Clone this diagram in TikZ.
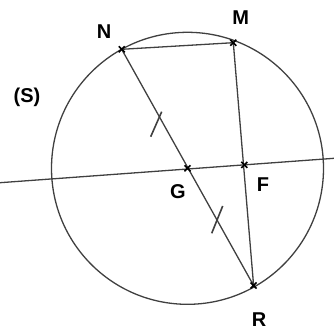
\documentclass[tikz,border=0pt]{standalone}
\usepackage{fontspec}
\setmainfont{Liberation Sans}
\tikzset{lbl/.style={font=\bfseries\fontsize{20}{20}\selectfont,inner sep=0pt}}
\begin{document}
\begin{tikzpicture}[x=1pt,y=-1pt,line width=1.3pt,draw=black!75]
    \useasboundingbox (0,0) rectangle (334,330);
    \coordinate (G) at (187.5,168.3); \coordinate (N) at (121.7,49.3);
    \coordinate (M) at (233.3,42.7); \coordinate (R) at (253.6,285.5);
    \coordinate (F) at (244.3,164.9);
    \coordinate (A) at (0,182.7); \coordinate (B) at (334,158.3);
    \draw (G) circle (136);
    \draw (A) -- (B);
    \draw (N) -- (M) -- (R) -- (N);
    \draw[line width=1.6pt] (150.7,136.7) -- (161.7,111.7);
    \draw[line width=1.6pt] (211.7,233.3) -- (222.7,206);
    \foreach \p in {N,M,R,G,F}
      \draw[line width=1.6pt,black] ([shift={(-3,-3)}]\p) -- ([shift={(3,3)}]\p)
        ([shift={(-3,3)}]\p) -- ([shift={(3,-3)}]\p);
    \node[lbl] (lN) at (104,32) {N}; \node[lbl] (lM) at (240.7,18) {M};
    \node[lbl] (lR) at (259,320) {R}; \node[lbl] (lG) at (178,192) {G};
    \node[lbl] (lF) at (263,185) {F}; \node[lbl] (lS) at (27,97) {(S)};
\end{tikzpicture}
\end{document}
